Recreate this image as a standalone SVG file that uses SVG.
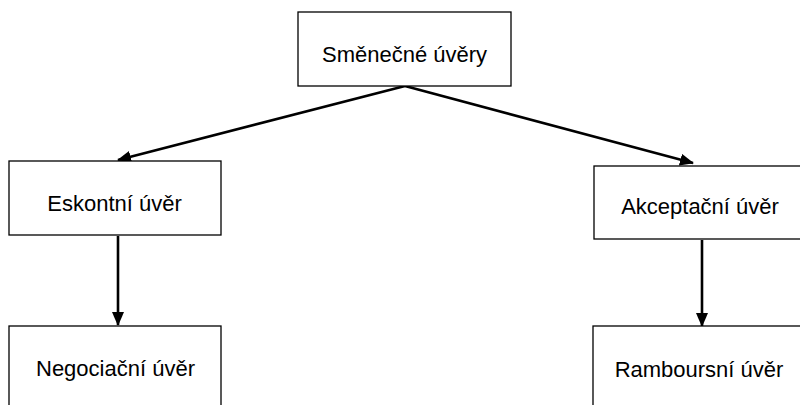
<svg xmlns="http://www.w3.org/2000/svg" width="800" height="405" viewBox="0 0 800 405">
  <style>
    .box { fill: #ffffff; stroke: #000000; stroke-width: 1.3; }
    .label { font-family: "Liberation Sans", Arial, sans-serif; font-size: 22px; fill: #000000; text-anchor: middle; }
    .edge { stroke: #000000; stroke-width: 2.6; fill: none; marker-end: url(#arrow); }
  </style>
  <defs>
    <marker id="arrow" markerUnits="userSpaceOnUse" markerWidth="14" markerHeight="12" viewBox="0 0 14 12" refX="13" refY="6" orient="auto">
      <path d="M0,0 L14,6 L0,12 Z" fill="#000000"/>
    </marker>
  </defs>
  <rect width="800" height="405" fill="#ffffff"/>

  <!-- connectors -->
  <g id="connectors">
    <line class="edge" x1="405" y1="86" x2="118" y2="160"/>
    <line class="edge" x1="405" y1="86" x2="693" y2="163"/>
    <line class="edge" x1="118" y1="236" x2="118" y2="325"/>
    <line class="edge" x1="702" y1="240" x2="702" y2="326"/>
  </g>

  <!-- nodes -->
  <g id="smenecne-uvery">
    <rect class="box" x="298" y="12" width="213" height="74"/>
    <text class="label" x="404.5" y="62">Směnečné úvěry</text>
  </g>
  <g id="eskontni-uver">
    <rect class="box" x="9" y="161" width="212" height="74"/>
    <text class="label" x="114.5" y="211">Eskontní úvěr</text>
  </g>
  <g id="akceptacni-uver">
    <rect class="box" x="594" y="166" width="220" height="73"/>
    <text class="label" x="700" y="214">Akceptační úvěr</text>
  </g>
  <g id="negociacni-uver">
    <rect class="box" x="9" y="326" width="212" height="90"/>
    <text class="label" x="115.5" y="376">Negociační úvěr</text>
  </g>
  <g id="ramboursni-uver">
    <rect class="box" x="593" y="326" width="220" height="90"/>
    <text class="label" x="699" y="377">Ramboursní úvěr</text>
  </g>
</svg>
